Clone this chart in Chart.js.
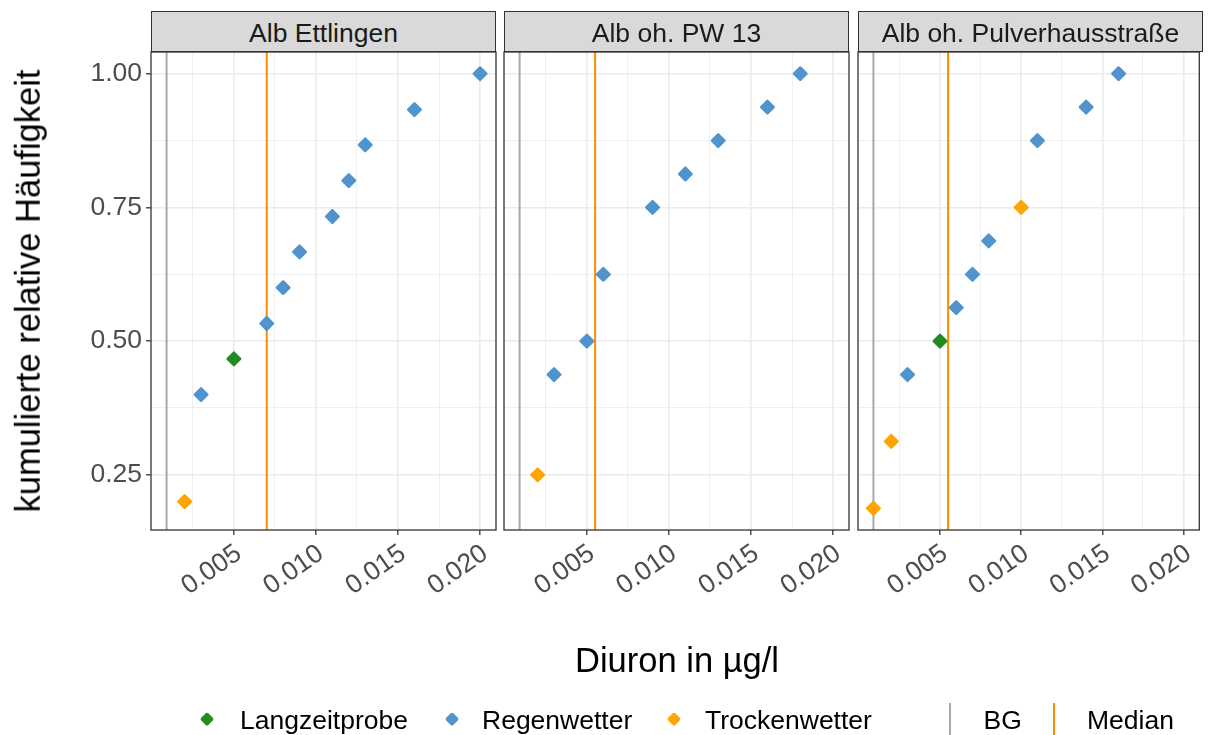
<!DOCTYPE html>
<html lang="de">
<head>
<meta charset="utf-8">
<title>Diuron – kumulierte relative Häufigkeit</title>
<script src="https://cdn.jsdelivr.net/npm/chart.js@4.4.1/dist/chart.umd.min.js"></script>
<style>
  html, body { margin: 0; padding: 0; background: #ffffff; }
  #fig { position: relative; width: 1208px; height: 735px; overflow: hidden;
         font-family: 'Liberation Sans', Arial, sans-serif; }
  #fig canvas { position: absolute; left: 0; top: 0; }
  .strip { position: absolute; top: 11px; height: 41px; box-sizing: border-box;
           background: #D9D9D9; border: 1.3px solid #333333; color: #1A1A1A;
           font-size: 26.5px; line-height: 1; display: flex; align-items: center;
           justify-content: center; padding-top: 3px; white-space: nowrap; }
  .axis-title { position: absolute; color: #000000; font-size: 34.5px; line-height: 1; white-space: nowrap; }
  .legend-text { position: absolute; top: 706.5px; font-size: 26.5px; line-height: 1; color: #000000; white-space: nowrap; }
  .legend-dot { position: absolute; width: 9.8px; height: 9.8px; border-radius: 1.8px;
                transform: translate(-50%, -50%) rotate(45deg); }
  .legend-line { position: absolute; top: 703px; height: 32px; width: 2px; }
</style>
</head>
<body>
<div id="fig">
  <canvas id="p0" width="1208" height="735"></canvas>
  <canvas id="p1" width="1208" height="735"></canvas>
  <canvas id="p2" width="1208" height="735"></canvas>
  <div id="strips"></div>
  <div class="axis-title" style="left:28px; top:291px; transform: translate(-50%, -50%) rotate(-90deg);">kumulierte relative Häufigkeit</div>
  <div class="axis-title" style="left:677px; top:643px; transform: translateX(-50%);">Diuron in µg/l</div>
  <div id="legend"></div>
</div>
<script>
// Messstellen (Facetten)
const panelNames = ['Alb Ettlingen', 'Alb oh. PW 13', 'Alb oh. Pulverhausstraße'];

// Alb Ettlingen: Diuron (µg/l), kumulierte relative Häufigkeit, Probenart
const ettlingenConc = [0.002, 0.003, 0.005, 0.007, 0.008, 0.009, 0.011, 0.012, 0.013, 0.016, 0.020];
const ettlingenCum  = [0.200, 0.400, 0.467, 0.533, 0.600, 0.667, 0.733, 0.800, 0.867, 0.933, 1.000];
const ettlingenType = ['Trockenwetter', 'Regenwetter', 'Langzeitprobe', 'Regenwetter', 'Regenwetter',
                       'Regenwetter', 'Regenwetter', 'Regenwetter', 'Regenwetter', 'Regenwetter', 'Regenwetter'];

// Alb oh. PW 13
const pw13Conc = [0.002, 0.003, 0.005, 0.006, 0.009, 0.011, 0.013, 0.016, 0.018];
const pw13Cum  = [0.250, 0.4375, 0.500, 0.625, 0.750, 0.8125, 0.875, 0.9375, 1.000];
const pw13Type = ['Trockenwetter', 'Regenwetter', 'Regenwetter', 'Regenwetter', 'Regenwetter',
                  'Regenwetter', 'Regenwetter', 'Regenwetter', 'Regenwetter'];

// Alb oh. Pulverhausstraße
const pulverConc = [0.0009, 0.002, 0.003, 0.005, 0.006, 0.007, 0.008, 0.010, 0.011, 0.014, 0.016];
const pulverCum  = [0.1875, 0.3125, 0.4375, 0.500, 0.5625, 0.625, 0.6875, 0.750, 0.875, 0.9375, 1.000];
const pulverType = ['Trockenwetter', 'Trockenwetter', 'Regenwetter', 'Langzeitprobe', 'Regenwetter',
                    'Regenwetter', 'Regenwetter', 'Trockenwetter', 'Regenwetter', 'Regenwetter', 'Regenwetter'];

// Bestimmungsgrenze und Median je Messstelle (µg/l)
const bgValues     = [0.0009, 0.0009, 0.0009];
const medianValues = [0.007, 0.0055, 0.0055];

// Achsenbeschriftung
const xTickValues = [0.005, 0.010, 0.015, 0.020];
const xTickLabels = ['0.005', '0.010', '0.015', '0.020'];
const xMinorGrid  = [0.0025, 0.0075, 0.0125, 0.0175];
const yTickValues = [0.25, 0.50, 0.75, 1.00];
const yTickLabels = ['0.25', '0.50', '0.75', '1.00'];
const yMinorGrid  = [0.375, 0.625, 0.875];

const sampleTypes = ['Langzeitprobe', 'Regenwetter', 'Trockenwetter'];
const typeColors = { Langzeitprobe: '#228B22', Regenwetter: '#4F94CD', Trockenwetter: '#FFA500' };
const BG_COLOR = '#A8A8A8';
const MEDIAN_COLOR = '#FF8C00';

const X_RANGE = [-0.00005, 0.02097];
const Y_RANGE = [0.1469, 1.0406];

const FONT = "'Liberation Sans', Arial, sans-serif";
const PANEL_LEFT = [151, 504, 858];
const PANEL_WIDTH = 345;
const PANEL_TOP = 52;
const X_AXIS_H = 80;
const Y_AXIS_W = 60;
const CANVAS_W = 1208, CANVAS_H = 735;

const panels = [
  { conc: ettlingenConc, cum: ettlingenCum, type: ettlingenType },
  { conc: pw13Conc, cum: pw13Cum, type: pw13Type },
  { conc: pulverConc, cum: pulverCum, type: pulverType }
];

const near = (a, b) => Math.abs(a - b) < 1e-9;
const labelFor = (v, values, labels) => {
  const i = values.findIndex(t => near(t, v));
  return i >= 0 ? labels[i] : '';
};
const isMajor = (v, values) => values.some(t => near(t, v));

// Rahmen um jedes Panel; runde Ecken für die Rauten-Symbole
const panelFrame = {
  id: 'panelFrame',
  beforeDatasetsDraw(chart) {
    chart.ctx.lineJoin = 'round';
  },
  afterDraw(chart) {
    const { ctx, chartArea: a } = chart;
    ctx.save();
    ctx.strokeStyle = '#333333';
    ctx.lineWidth = 1.3;
    ctx.lineJoin = 'miter';
    ctx.strokeRect(a.left, a.top, a.right - a.left, a.bottom - a.top);
    ctx.restore();
  }
};

function buildDatasets(p, idx) {
  const sets = sampleTypes.map(t => {
    const pts = [];
    p.conc.forEach((c, i) => { if (p.type[i] === t) pts.push({ x: c, y: p.cum[i] }); });
    return {
      label: t, data: pts, order: 0,
      pointStyle: 'rectRot', pointRadius: 6.3, pointHoverRadius: 6.3,
      backgroundColor: typeColors[t], borderColor: typeColors[t], borderWidth: 2.4
    };
  });
  const vline = (x, color, label) => ({
    label, data: [{ x, y: Y_RANGE[0] }, { x, y: Y_RANGE[1] }], order: 1,
    showLine: true, pointRadius: 0, borderColor: color, borderWidth: 2
  });
  sets.push(vline(bgValues[idx], BG_COLOR, 'BG'));
  sets.push(vline(medianValues[idx], MEDIAN_COLOR, 'Median'));
  return sets;
}

panels.forEach((p, idx) => {
  const yw = idx === 0 ? Y_AXIS_W : 0;
  new Chart(document.getElementById('p' + idx), {
    type: 'scatter',
    data: { datasets: buildDatasets(p, idx) },
    plugins: [panelFrame],
    options: {
      responsive: false, animation: false, events: [], devicePixelRatio: 1,
      layout: { padding: {
        left: PANEL_LEFT[idx] - yw,
        right: CANVAS_W - PANEL_LEFT[idx] - PANEL_WIDTH,
        top: PANEL_TOP,
        bottom: CANVAS_H - 530 - X_AXIS_H
      } },
      plugins: { legend: { display: false }, tooltip: { enabled: false } },
      scales: {
        x: {
          type: 'linear', min: X_RANGE[0], max: X_RANGE[1],
          afterBuildTicks: s => { s.ticks = [...xMinorGrid, ...xTickValues].sort((a, b) => a - b).map(v => ({ value: v })); },
          afterFit: s => { s.height = X_AXIS_H; s.paddingLeft = 0; s.paddingRight = 0; },
          border: { display: false },
          grid: {
            color: '#EBEBEB',
            lineWidth: c => (c.tick && isMajor(c.tick.value, xTickValues)) ? 1.6 : 0.8,
            tickColor: c => (c.tick && isMajor(c.tick.value, xTickValues)) ? '#333333' : 'rgba(0,0,0,0)',
            tickWidth: 1.3, tickLength: 5
          },
          ticks: {
            autoSkip: false, minRotation: 35, maxRotation: 35, padding: 3, labelOffset: 5,
            color: '#4D4D4D', font: { family: FONT, size: 26.5 },
            callback: v => labelFor(v, xTickValues, xTickLabels)
          }
        },
        y: {
          type: 'linear', min: Y_RANGE[0], max: Y_RANGE[1],
          afterBuildTicks: s => { s.ticks = [...yMinorGrid, ...yTickValues].sort((a, b) => a - b).map(v => ({ value: v })); },
          afterFit: s => { s.width = yw; s.paddingTop = 0; s.paddingBottom = 0; },
          border: { display: false },
          grid: {
            color: '#EBEBEB',
            lineWidth: c => (c.tick && isMajor(c.tick.value, yTickValues)) ? 1.6 : 0.8,
            tickColor: c => (c.tick && isMajor(c.tick.value, yTickValues)) ? '#333333' : 'rgba(0,0,0,0)',
            tickWidth: 1.3, tickLength: 5, drawTicks: idx === 0
          },
          ticks: {
            display: idx === 0, padding: 4,
            color: '#4D4D4D', font: { family: FONT, size: 26.5 },
            callback: v => labelFor(v, yTickValues, yTickLabels)
          }
        }
      }
    }
  });
});

// Facettenköpfe
const stripBox = document.getElementById('strips');
panelNames.forEach((name, i) => {
  const d = document.createElement('div');
  d.className = 'strip';
  d.style.left = PANEL_LEFT[i] + 'px';
  d.style.width = PANEL_WIDTH + 'px';
  d.textContent = name;
  stripBox.appendChild(d);
});

// Legende
const legend = document.getElementById('legend');
const legendDots = [
  { label: 'Langzeitprobe', dot: 206.5, text: 240 },
  { label: 'Regenwetter', dot: 451.5, text: 482 },
  { label: 'Trockenwetter', dot: 673.5, text: 705 }
];
legendDots.forEach(item => {
  const dot = document.createElement('div');
  dot.className = 'legend-dot';
  dot.style.left = item.dot + 'px';
  dot.style.top = '718.5px';
  dot.style.background = typeColors[item.label];
  legend.appendChild(dot);
  const t = document.createElement('div');
  t.className = 'legend-text';
  t.style.left = item.text + 'px';
  t.textContent = item.label;
  legend.appendChild(t);
});
const legendLines = [
  { label: 'BG', color: BG_COLOR, line: 949, text: 983.5 },
  { label: 'Median', color: MEDIAN_COLOR, line: 1052.5, text: 1087 }
];
legendLines.forEach(item => {
  const l = document.createElement('div');
  l.className = 'legend-line';
  l.style.left = item.line + 'px';
  l.style.background = item.color;
  legend.appendChild(l);
  const t = document.createElement('div');
  t.className = 'legend-text';
  t.style.left = item.text + 'px';
  t.textContent = item.label;
  legend.appendChild(t);
});
</script>
</body>
</html>
